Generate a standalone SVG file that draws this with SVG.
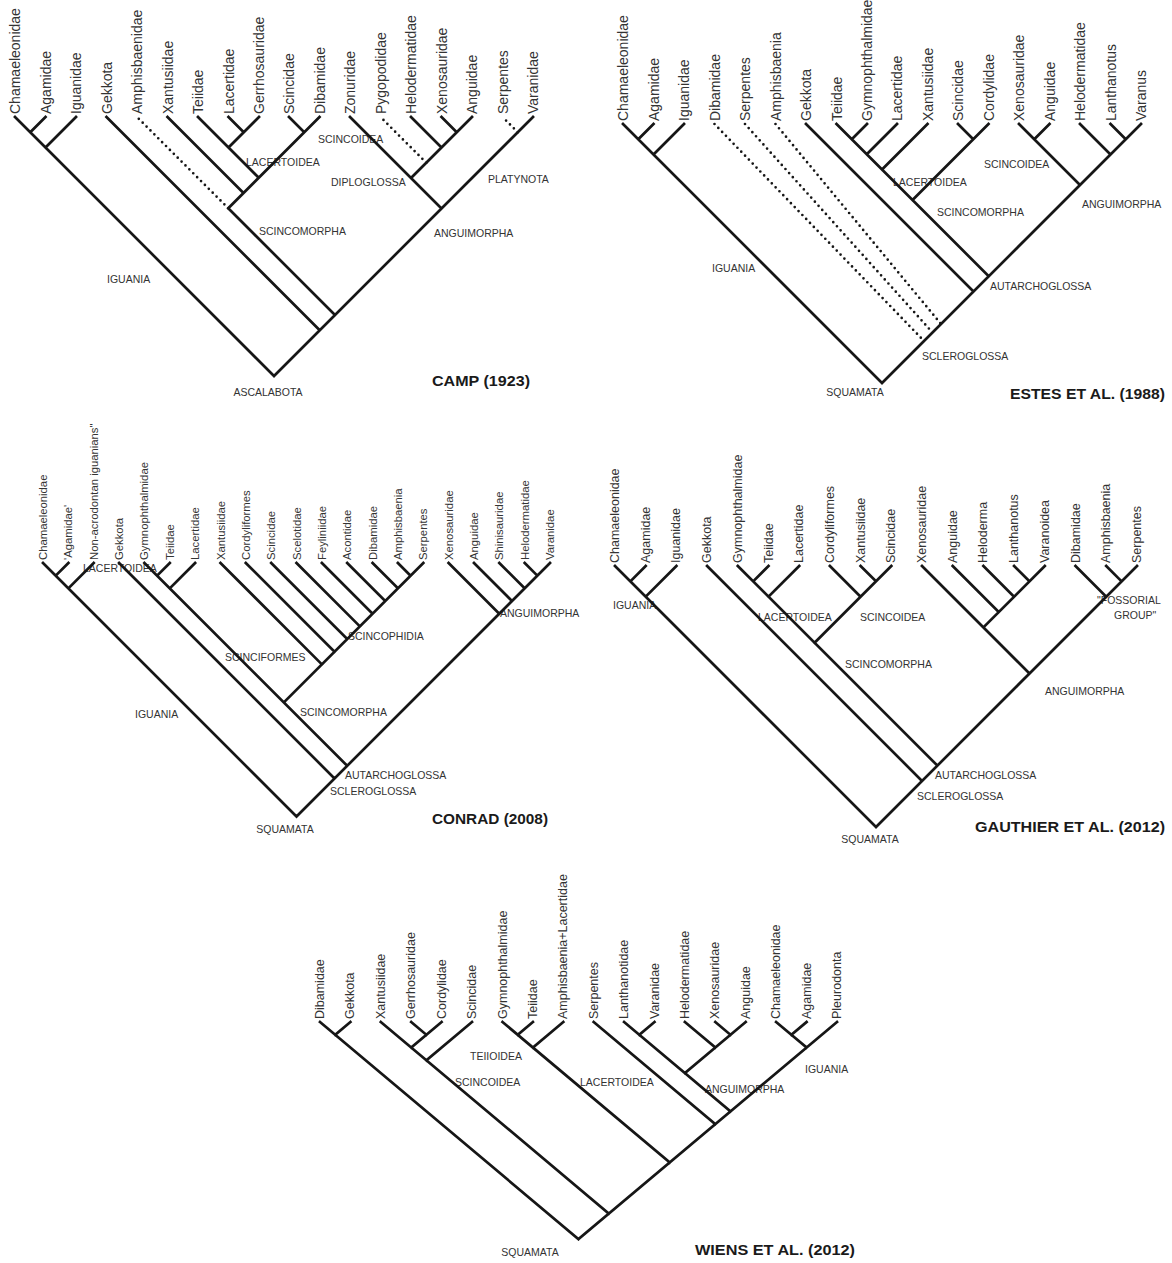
<svg xmlns="http://www.w3.org/2000/svg" width="1172" height="1263" viewBox="0 0 1172 1263">
<style>
.br{stroke:#161616;stroke-width:2.7;fill:none;stroke-linecap:square}
.dt{stroke:#161616;stroke-width:2.7;fill:none;stroke-dasharray:0 5.5;stroke-linecap:round}
.lf{font-family:"Liberation Sans",Arial,sans-serif;font-size:14px;fill:#333;dominant-baseline:central}
.lf2{font-family:"Liberation Sans",Arial,sans-serif;font-size:11.3px;fill:#333;dominant-baseline:central}
.lf3{font-family:"Liberation Sans",Arial,sans-serif;font-size:12.5px;fill:#333;dominant-baseline:central}
.cl{font-family:"Liberation Sans",Arial,sans-serif;font-size:10.5px;fill:#333}
.ti{font-family:"Liberation Sans",Arial,sans-serif;font-size:15.5px;font-weight:bold;fill:#1a1a1a}
</style>
<rect width="1172" height="1263" fill="#ffffff"/>

<!-- CAMP 1923 -->
<g id="camp" transform="translate(0,117)">
<g id="camp-leaves">
<g id="camp-chamaeleonidae"><text class="lf" transform="translate(15,-3) rotate(-90)">Chamaeleonidae</text></g>
<g id="camp-agamidae"><text class="lf" transform="translate(45.5,-3) rotate(-90)">Agamidae</text></g>
<g id="camp-iguanidae"><text class="lf" transform="translate(76,-3) rotate(-90)">Iguanidae</text></g>
<g id="camp-gekkota"><text class="lf" transform="translate(106.5,-3) rotate(-90)">Gekkota</text></g>
<g id="camp-amphisbaenidae"><text class="lf" transform="translate(137,-3) rotate(-90)">Amphisbaenidae</text></g>
<g id="camp-xantusiidae"><text class="lf" transform="translate(167.5,-3) rotate(-90)">Xantusiidae</text></g>
<g id="camp-teiidae"><text class="lf" transform="translate(198,-3) rotate(-90)">Teiidae</text></g>
<g id="camp-lacertidae"><text class="lf" transform="translate(228.5,-3) rotate(-90)">Lacertidae</text></g>
<g id="camp-gerrhosauridae"><text class="lf" transform="translate(259,-3) rotate(-90)">Gerrhosauridae</text></g>
<g id="camp-scincidae"><text class="lf" transform="translate(289,-3) rotate(-90)">Scincidae</text></g>
<g id="camp-dibamidae"><text class="lf" transform="translate(319.5,-3) rotate(-90)">Dibamidae</text></g>
<g id="camp-zonuridae"><text class="lf" transform="translate(350,-3) rotate(-90)">Zonuridae</text></g>
<g id="camp-pygopodidae"><text class="lf" transform="translate(380.5,-3) rotate(-90)">Pygopodidae</text></g>
<g id="camp-helodermatidae"><text class="lf" transform="translate(411,-3) rotate(-90)">Helodermatidae</text></g>
<g id="camp-xenosauridae"><text class="lf" transform="translate(441.5,-3) rotate(-90)">Xenosauridae</text></g>
<g id="camp-anguidae"><text class="lf" transform="translate(472,-3) rotate(-90)">Anguidae</text></g>
<g id="camp-serpentes"><text class="lf" transform="translate(502.5,-3) rotate(-90)">Serpentes</text></g>
<g id="camp-varanidae"><text class="lf" transform="translate(533,-3) rotate(-90)">Varanidae</text></g>
</g>
<g id="camp-clades">
<g id="camp-scincoidea"><text class="cl" x="318" y="26">SCINCOIDEA</text></g>
<g id="camp-lacertoidea"><text class="cl" x="246" y="49">LACERTOIDEA</text></g>
<g id="camp-scincomorpha"><text class="cl" x="259" y="118">SCINCOMORPHA</text></g>
<g id="camp-iguania"><text class="cl" x="107" y="166">IGUANIA</text></g>
<g id="camp-diploglossa"><text class="cl" x="331" y="69">DIPLOGLOSSA</text></g>
<g id="camp-platynota"><text class="cl" x="488" y="66">PLATYNOTA</text></g>
<g id="camp-anguimorpha"><text class="cl" x="434" y="120">ANGUIMORPHA</text></g>
<g id="camp-ascalabota"><text class="cl" x="268" y="279" text-anchor="middle">ASCALABOTA</text></g>
</g>
<g id="camp-connectors">
<path class="br" d="M274,259L15,0M274,259L533,0M30.25,15.25L45.5,0M45.5,30.5L76,0M319.75,213.25L106.5,0M335,198L228.25,91.25M228.25,91.25L319.5,0M243.5,76L167.5,0M258.75,60.75L198,0M228.5,30.5L259,0M243.75,15.25L228.5,0M304.25,15.25L289,0M441.5,91.5L350,0M411,61L472,0M441.5,30.5L411,0M456.75,15.25L441.5,0"/>
<path class="dt" d="M228.25,91.25L137,0M426.25,45.75L380.5,0M517.75,15.25L502.5,0"/>
</g>
</g>
<g id="title-camp"><text class="ti" x="432" y="386" textLength="98" lengthAdjust="spacingAndGlyphs">CAMP (1923)</text></g>

<!-- ESTES 1988 -->
<g id="estes" transform="translate(608,124)">
<g id="estes-leaves">
<g id="estes-chamaeleonidae"><text class="lf" transform="translate(15,-3) rotate(-90)">Chamaeleonidae</text></g>
<g id="estes-agamidae"><text class="lf" transform="translate(45.5,-3) rotate(-90)">Agamidae</text></g>
<g id="estes-iguanidae"><text class="lf" transform="translate(76,-3) rotate(-90)">Iguanidae</text></g>
<g id="estes-dibamidae"><text class="lf" transform="translate(106.5,-3) rotate(-90)">Dibamidae</text></g>
<g id="estes-serpentes"><text class="lf" transform="translate(137,-3) rotate(-90)">Serpentes</text></g>
<g id="estes-amphisbaenia"><text class="lf" transform="translate(167.5,-3) rotate(-90)">Amphisbaenia</text></g>
<g id="estes-gekkota"><text class="lf" transform="translate(198,-3) rotate(-90)">Gekkota</text></g>
<g id="estes-teiidae"><text class="lf" transform="translate(228.5,-3) rotate(-90)">Teiidae</text></g>
<g id="estes-gymnophthalmidae"><text class="lf" transform="translate(259,-3) rotate(-90)">Gymnophthalmidae</text></g>
<g id="estes-lacertidae"><text class="lf" transform="translate(289,-3) rotate(-90)">Lacertidae</text></g>
<g id="estes-xantusiidae"><text class="lf" transform="translate(319.5,-3) rotate(-90)">Xantusiidae</text></g>
<g id="estes-scincidae"><text class="lf" transform="translate(350,-3) rotate(-90)">Scincidae</text></g>
<g id="estes-cordylidae"><text class="lf" transform="translate(380.5,-3) rotate(-90)">Cordylidae</text></g>
<g id="estes-xenosauridae"><text class="lf" transform="translate(411,-3) rotate(-90)">Xenosauridae</text></g>
<g id="estes-anguidae"><text class="lf" transform="translate(441.5,-3) rotate(-90)">Anguidae</text></g>
<g id="estes-helodermatidae"><text class="lf" transform="translate(472,-3) rotate(-90)">Helodermatidae</text></g>
<g id="estes-lanthanotus"><text class="lf" transform="translate(502.5,-3) rotate(-90)">Lanthanotus</text></g>
<g id="estes-varanus"><text class="lf" transform="translate(533,-3) rotate(-90)">Varanus</text></g>
</g>
<g id="estes-clades">
<g id="estes-iguania"><text class="cl" x="104" y="148">IGUANIA</text></g>
<g id="estes-scleroglossa"><text class="cl" x="314" y="236">SCLEROGLOSSA</text></g>
<g id="estes-autarchoglossa"><text class="cl" x="382" y="166">AUTARCHOGLOSSA</text></g>
<g id="estes-scincomorpha"><text class="cl" x="329" y="92">SCINCOMORPHA</text></g>
<g id="estes-lacertoidea"><text class="cl" x="285" y="62">LACERTOIDEA</text></g>
<g id="estes-scincoidea"><text class="cl" x="376" y="44">SCINCOIDEA</text></g>
<g id="estes-anguimorpha"><text class="cl" x="474" y="84">ANGUIMORPHA</text></g>
<g id="estes-squamata"><text class="cl" x="247" y="272" text-anchor="middle">SQUAMATA</text></g>
</g>
<g id="estes-connectors">
<path class="br" d="M274,259L15,0M274,259L533,0M30.25,15.25L45.5,0M45.5,30.5L76,0M365.5,167.5L198,0M380.75,152.25L228.5,0M243.75,15.25L259,0M258.75,30.25L289,0M274,45.5L319.5,0M304.5,76L380.5,0M365.25,15.25L350,0M472,61L411,0M426.25,15.25L441.5,0M502.5,30.5L472,0M517.75,15.25L502.5,0"/>
<path class="dt" d="M106.5,0L316,217M137,0L324.5,208.5M167.5,0L333,200"/>
</g>
</g>
<g id="title-estes"><text class="ti" x="1010" y="399" textLength="155" lengthAdjust="spacingAndGlyphs">ESTES ET AL. (1988)</text></g>

<!-- CONRAD 2008 -->
<g id="conrad" transform="translate(0,563)">
<g id="conrad-leaves">
<g id="conrad-chamaeleonidae"><text class="lf2" transform="translate(43,-3) rotate(-90)">Chamaeleonidae</text></g>
<g id="conrad-agamidae"><text class="lf2" transform="translate(68.4,-3) rotate(-90)">'Agamidae'</text></g>
<g id="conrad-nonacrodontan"><text class="lf2" transform="translate(93.7,-3) rotate(-90)">Non-acrodontan iguanians"</text></g>
<g id="conrad-gekkota"><text class="lf2" transform="translate(119.1,-3) rotate(-90)">Gekkota</text></g>
<g id="conrad-gymnophthalmidae"><text class="lf2" transform="translate(144.4,-3) rotate(-90)">Gymnophthalmidae</text></g>
<g id="conrad-teiidae"><text class="lf2" transform="translate(169.8,-3) rotate(-90)">Teiidae</text></g>
<g id="conrad-lacertidae"><text class="lf2" transform="translate(195.1,-3) rotate(-90)">Lacertidae</text></g>
<g id="conrad-xantusiidae"><text class="lf2" transform="translate(220.5,-3) rotate(-90)">Xantusiidae</text></g>
<g id="conrad-cordyliformes"><text class="lf2" transform="translate(245.8,-3) rotate(-90)">Cordyliformes</text></g>
<g id="conrad-scincidae"><text class="lf2" transform="translate(271.2,-3) rotate(-90)">Scincidae</text></g>
<g id="conrad-scelotidae"><text class="lf2" transform="translate(296.5,-3) rotate(-90)">Scelotidae</text></g>
<g id="conrad-feyliniidae"><text class="lf2" transform="translate(321.9,-3) rotate(-90)">Feyliniidae</text></g>
<g id="conrad-acontidae"><text class="lf2" transform="translate(347.2,-3) rotate(-90)">Acontidae</text></g>
<g id="conrad-dibamidae"><text class="lf2" transform="translate(372.6,-3) rotate(-90)">Dibamidae</text></g>
<g id="conrad-amphisbaenia"><text class="lf2" transform="translate(397.9,-3) rotate(-90)">Amphisbaenia</text></g>
<g id="conrad-serpentes"><text class="lf2" transform="translate(423.3,-3) rotate(-90)">Serpentes</text></g>
<g id="conrad-xenosauridae"><text class="lf2" transform="translate(448.6,-3) rotate(-90)">Xenosauridae</text></g>
<g id="conrad-anguidae"><text class="lf2" transform="translate(474,-3) rotate(-90)">Anguidae</text></g>
<g id="conrad-shinisauridae"><text class="lf2" transform="translate(499.3,-3) rotate(-90)">Shinisauridae</text></g>
<g id="conrad-helodermatidae"><text class="lf2" transform="translate(524.7,-3) rotate(-90)">Helodermatidae</text></g>
<g id="conrad-varanidae"><text class="lf2" transform="translate(550,-3) rotate(-90)">Varanidae</text></g>
</g>
<g id="conrad-clades">
<g id="conrad-lacertoidea"><text class="cl" x="83" y="9">LACERTOIDEA</text></g>
<g id="conrad-iguania"><text class="cl" x="135" y="155">IGUANIA</text></g>
<g id="conrad-scinciformes"><text class="cl" x="225" y="98">SCINCIFORMES</text></g>
<g id="conrad-scincophidia"><text class="cl" x="348" y="77">SCINCOPHIDIA</text></g>
<g id="conrad-scincomorpha"><text class="cl" x="300" y="153">SCINCOMORPHA</text></g>
<g id="conrad-anguimorpha"><text class="cl" x="500" y="54">ANGUIMORPHA</text></g>
<g id="conrad-autarchoglossa"><text class="cl" x="345" y="216">AUTARCHOGLOSSA</text></g>
<g id="conrad-scleroglossa"><text class="cl" x="330" y="232">SCLEROGLOSSA</text></g>
<g id="conrad-squamata"><text class="cl" x="285" y="270" text-anchor="middle">SQUAMATA</text></g>
</g>
<g id="conrad-connectors">
<path class="br" d="M296.5,253.5L43,0M296.5,253.5L550,0M55.7,12.7L68.4,0M68.35,25.35L93.7,0M334.55,215.45L119.1,0M347.2,202.8L144.4,0M283.85,139.45L423.3,0M169.75,25.35L195.1,0M157.1,12.7L169.8,0M321.9,101.4L220.5,0M334.55,88.75L245.8,0M347.25,76.05L271.2,0M359.9,63.4L296.5,0M372.6,50.7L321.9,0M385.25,38.05L347.2,0M397.95,25.35L372.6,0M410.6,12.7L397.9,0M499.3,50.7L448.6,0M512,38L474,0M524.65,25.35L499.3,0M537.35,12.65L524.7,0"/>
</g>
</g>
<g id="title-conrad"><text class="ti" x="432" y="824" textLength="116" lengthAdjust="spacingAndGlyphs">CONRAD (2008)</text></g>

<!-- GAUTHIER 2012 -->
<g id="gauthier" transform="translate(0,566)">
<g id="gauthier-leaves">
<g id="ga-chamaeleonidae"><text class="lf3" transform="translate(615,-3) rotate(-90)">Chamaeleonidae</text></g>
<g id="ga-agamidae"><text class="lf3" transform="translate(645.7,-3) rotate(-90)">Agamidae</text></g>
<g id="ga-iguanidae"><text class="lf3" transform="translate(676.4,-3) rotate(-90)">Iguanidae</text></g>
<g id="ga-gekkota"><text class="lf3" transform="translate(707.1,-3) rotate(-90)">Gekkota</text></g>
<g id="ga-gymnophthalmidae"><text class="lf3" transform="translate(737.8,-3) rotate(-90)">Gymnophthalmidae</text></g>
<g id="ga-teiidae"><text class="lf3" transform="translate(768.5,-3) rotate(-90)">Teiidae</text></g>
<g id="ga-lacertidae"><text class="lf3" transform="translate(799.2,-3) rotate(-90)">Lacertidae</text></g>
<g id="ga-cordyliformes"><text class="lf3" transform="translate(829.9,-3) rotate(-90)">Cordyliformes</text></g>
<g id="ga-xantusiidae"><text class="lf3" transform="translate(860.6,-3) rotate(-90)">Xantusiidae</text></g>
<g id="ga-scincidae"><text class="lf3" transform="translate(891.3,-3) rotate(-90)">Scincidae</text></g>
<g id="ga-xenosauridae"><text class="lf3" transform="translate(922,-3) rotate(-90)">Xenosauridae</text></g>
<g id="ga-anguidae"><text class="lf3" transform="translate(952.7,-3) rotate(-90)">Anguidae</text></g>
<g id="ga-heloderma"><text class="lf3" transform="translate(983.4,-3) rotate(-90)">Heloderma</text></g>
<g id="ga-lanthanotus"><text class="lf3" transform="translate(1014.1,-3) rotate(-90)">Lanthanotus</text></g>
<g id="ga-varanoidea"><text class="lf3" transform="translate(1044.8,-3) rotate(-90)">Varanoidea</text></g>
<g id="ga-dibamidae"><text class="lf3" transform="translate(1075.5,-3) rotate(-90)">Dibamidae</text></g>
<g id="ga-amphisbaenia"><text class="lf3" transform="translate(1106.2,-3) rotate(-90)">Amphisbaenia</text></g>
<g id="ga-serpentes"><text class="lf3" transform="translate(1137,-3) rotate(-90)">Serpentes</text></g>
</g>
<g id="gauthier-clades">
<g id="ga-iguania"><text class="cl" x="613" y="43">IGUANIA</text></g>
<g id="ga-lacertoidea"><text class="cl" x="758" y="55">LACERTOIDEA</text></g>
<g id="ga-scincoidea"><text class="cl" x="860" y="55">SCINCOIDEA</text></g>
<g id="ga-scincomorpha"><text class="cl" x="845" y="102">SCINCOMORPHA</text></g>
<g id="ga-anguimorpha"><text class="cl" x="1045" y="129">ANGUIMORPHA</text></g>
<g id="ga-fossorial"><text class="cl" x="1097" y="38">"FOSSORIAL</text><text class="cl" x="1114" y="53">GROUP"</text></g>
<g id="ga-autarchoglossa"><text class="cl" x="935" y="213">AUTARCHOGLOSSA</text></g>
<g id="ga-scleroglossa"><text class="cl" x="917" y="234">SCLEROGLOSSA</text></g>
<g id="ga-squamata"><text class="cl" x="870" y="277" text-anchor="middle">SQUAMATA</text></g>
</g>
<g id="gauthier-connectors">
<path class="br" d="M876,261L615,0M876,261L1137,0M630.35,15.35L645.7,0M645.7,30.7L676.4,0M922.05,214.95L707.1,0M937.4,199.6L737.8,0M814.55,76.75L891.3,0M768.5,30.7L799.2,0M753.15,15.35L768.5,0M860.6,30.7L829.9,0M876,15.35L860.6,0M1029.5,107.5L922,0M983.4,61.4L1044.8,0M998.75,46.05L952.7,0M1014.1,30.7L983.4,0M1029.45,15.35L1014.1,0M1106.25,30.75L1075.5,0M1121.6,15.4L1106.2,0"/>
</g>
</g>
<g id="title-gauthier"><text class="ti" x="975" y="832" textLength="190" lengthAdjust="spacingAndGlyphs">GAUTHIER ET AL. (2012)</text></g>

<!-- WIENS 2012 -->
<g id="wiens" transform="translate(0,1022)">
<g id="wiens-leaves">
<g id="wi-dibamidae"><text class="lf3" transform="translate(320,-3) rotate(-90)">Dibamidae</text></g>
<g id="wi-gekkota"><text class="lf3" transform="translate(350.4,-3) rotate(-90)">Gekkota</text></g>
<g id="wi-xantusiidae"><text class="lf3" transform="translate(380.8,-3) rotate(-90)">Xantusiidae</text></g>
<g id="wi-gerrhosauridae"><text class="lf3" transform="translate(411.2,-3) rotate(-90)">Gerrhosauridae</text></g>
<g id="wi-cordylidae"><text class="lf3" transform="translate(441.6,-3) rotate(-90)">Cordylidae</text></g>
<g id="wi-scincidae"><text class="lf3" transform="translate(472,-3) rotate(-90)">Scincidae</text></g>
<g id="wi-gymnophthalmidae"><text class="lf3" transform="translate(502.5,-3) rotate(-90)">Gymnophthalmidae</text></g>
<g id="wi-teiidae"><text class="lf3" transform="translate(532.9,-3) rotate(-90)">Teiidae</text></g>
<g id="wi-amphlac"><text class="lf3" transform="translate(563.3,-3) rotate(-90)">Amphisbaenia+Lacertidae</text></g>
<g id="wi-serpentes"><text class="lf3" transform="translate(593.7,-3) rotate(-90)">Serpentes</text></g>
<g id="wi-lanthanotidae"><text class="lf3" transform="translate(624.1,-3) rotate(-90)">Lanthanotidae</text></g>
<g id="wi-varanidae"><text class="lf3" transform="translate(654.5,-3) rotate(-90)">Varanidae</text></g>
<g id="wi-helodermatidae"><text class="lf3" transform="translate(684.9,-3) rotate(-90)">Helodermatidae</text></g>
<g id="wi-xenosauridae"><text class="lf3" transform="translate(715.3,-3) rotate(-90)">Xenosauridae</text></g>
<g id="wi-anguidae"><text class="lf3" transform="translate(745.7,-3) rotate(-90)">Anguidae</text></g>
<g id="wi-chamaeleonidae"><text class="lf3" transform="translate(776.1,-3) rotate(-90)">Chamaeleonidae</text></g>
<g id="wi-agamidae"><text class="lf3" transform="translate(806.6,-3) rotate(-90)">Agamidae</text></g>
<g id="wi-pleurodonta"><text class="lf3" transform="translate(837,-3) rotate(-90)">Pleurodonta</text></g>
</g>
<g id="wiens-clades">
<g id="wi-teiioidea"><text class="cl" x="470" y="38">TEIIOIDEA</text></g>
<g id="wi-scincoidea"><text class="cl" x="455" y="64">SCINCOIDEA</text></g>
<g id="wi-lacertoidea"><text class="cl" x="580" y="64">LACERTOIDEA</text></g>
<g id="wi-anguimorpha"><text class="cl" x="705" y="71">ANGUIMORPHA</text></g>
<g id="wi-iguania"><text class="cl" x="805" y="51">IGUANIA</text></g>
<g id="wi-squamata"><text class="cl" x="530" y="234" text-anchor="middle">SQUAMATA</text></g>
</g>
<g id="wiens-connectors">
<path class="br" d="M578.5,217.1L320,0M578.5,217.1L837,0M335.2,12.8L350.4,0M608.9,191.6L380.8,0M426.4,38.3L472,0M411.2,25.5L441.6,0M426.4,12.8L411.2,0M669.75,140.5L502.5,0M532.9,25.5L563.3,0M517.7,12.8L532.9,0M715.35,102.2L593.7,0M730.55,89.4L624.1,0M684.9,51.1L745.7,0M639.3,12.8L654.5,0M715.3,25.5L684.9,0M730.5,12.8L715.3,0M806.55,25.5L776.1,0M791.35,12.8L806.6,0"/>
</g>
</g>
<g id="title-wiens"><text class="ti" x="695" y="1255" textLength="160" lengthAdjust="spacingAndGlyphs">WIENS ET AL. (2012)</text></g>
</svg>
